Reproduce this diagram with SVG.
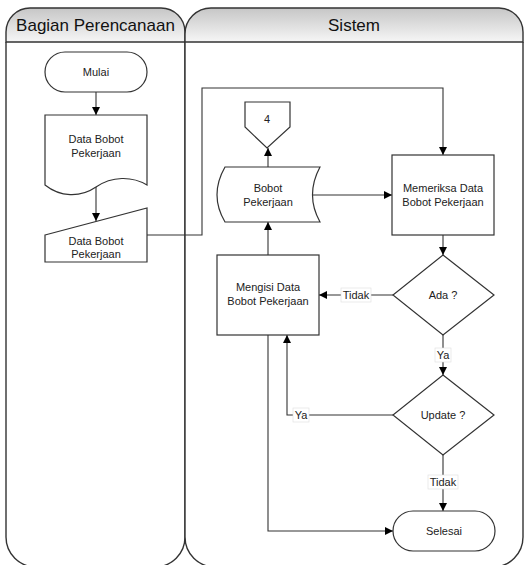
<svg xmlns="http://www.w3.org/2000/svg" width="525" height="565" viewBox="0 0 525 565">
<defs>
<linearGradient id="hdr" x1="0" y1="0" x2="0" y2="1">
<stop offset="0" stop-color="#c6c6c6"/>
<stop offset="1" stop-color="#f6f6f6"/>
</linearGradient>
<marker id="arr" viewBox="0 0 10 10" refX="10" refY="5" markerWidth="8" markerHeight="8" markerUnits="userSpaceOnUse" orient="auto">
<path d="M0,0 L10,5 L0,10 Z" fill="#000"/>
</marker>
<style>
.lane{fill:#fff;stroke:#333;stroke-width:1.4}
.hd{fill:url(#hdr);stroke:#333;stroke-width:1.4}
.nd{fill:#fff;stroke:#333;stroke-width:1.2}
.ht{font-family:"Liberation Sans",Arial,sans-serif;font-size:17px;fill:#111;text-anchor:middle}
.t{font-family:"Liberation Sans",Arial,sans-serif;font-size:11px;fill:#222;text-anchor:middle}
.c{fill:none;stroke:#333;stroke-width:1.1}
.lb{fill:#fff;stroke:#ddd;stroke-width:0.6}
</style>
</defs>
<g id="lane-bagian">
<path class="lane" d="M6,42 V537 A30,30 0 0 0 36,567 H155 A30,30 0 0 0 185,537 V42"/>
<path class="hd" d="M6,42 V32 A24,24 0 0 1 30,8 H161 A24,24 0 0 1 185,32 V42 Z"/>
<text class="ht" x="95.5" y="31">Bagian Perencanaan</text>
</g>
<g id="lane-sistem">
<path class="lane" d="M185,42 V537 A30,30 0 0 0 215,567 H493 A30,30 0 0 0 523,537 V42"/>
<path class="hd" d="M185,42 V34 A26,26 0 0 1 211,8 H499 A24,24 0 0 1 523,32 V42 Z"/>
<text class="ht" x="354" y="31">Sistem</text>
</g>
<g id="connectors">
<path class="c" d="M96,92 V115" marker-end="url(#arr)"/>
<path class="c" d="M96,187 V221" marker-end="url(#arr)"/>
<path class="c" d="M147,235 H202 V88 H443 V155" marker-end="url(#arr)"/>
<path class="c" d="M268,167 V148" marker-end="url(#arr)"/>
<path class="c" d="M313,195 H392" marker-end="url(#arr)"/>
<path class="c" d="M443,235 V255" marker-end="url(#arr)"/>
<path class="c" d="M393,295 H319" marker-end="url(#arr)"/>
<path class="c" d="M268,255 V222" marker-end="url(#arr)"/>
<path class="c" d="M443,335 V375" marker-end="url(#arr)"/>
<path class="c" d="M393,415 H287 V335" marker-end="url(#arr)"/>
<path class="c" d="M443,455 V511" marker-end="url(#arr)"/>
<path class="c" d="M268,335 V531 H393" marker-end="url(#arr)"/>
<rect class="lb" x="341" y="288" width="30" height="14"/>
<text class="t" x="356" y="299">Tidak</text>
<rect class="lb" x="435" y="348" width="16" height="14"/>
<text class="t" x="443" y="359">Ya</text>
<rect class="lb" x="293" y="408" width="16" height="14"/>
<text class="t" x="301" y="419">Ya</text>
<rect class="lb" x="428" y="475" width="30" height="14"/>
<text class="t" x="443" y="486">Tidak</text>
</g>
<g id="mulai">
<rect class="nd" x="45" y="52" width="102" height="40" rx="20" ry="20"/>
<text class="t" x="96" y="76">Mulai</text>
</g>
<g id="doc-data">
<path class="nd" d="M45,115 H147 V185 C132,176 112,176 96,187 C80,198 60,197 45,185 Z"/>
<text class="t" x="96" y="143">Data Bobot</text>
<text class="t" x="96" y="157">Pekerjaan</text>
</g>
<g id="input-data">
<path class="nd" d="M45,235 L147,208 V262 H45 Z"/>
<text class="t" x="96" y="245">Data Bobot</text>
<text class="t" x="96" y="258">Pekerjaan</text>
</g>
<g id="offpage-4">
<path class="nd" d="M245,102 H290 V127 L267,148 L245,127 Z"/>
<text class="t" x="267" y="123">4</text>
</g>
<g id="stored-bobot">
<path class="nd" d="M225,167 H320 Q305,195 320,222 H225 Q209,195 225,167 Z"/>
<text class="t" x="268" y="192">Bobot</text>
<text class="t" x="268" y="206">Pekerjaan</text>
</g>
<g id="memeriksa">
<rect class="nd" x="392" y="155" width="102" height="80"/>
<text class="t" x="443" y="192">Memeriksa Data</text>
<text class="t" x="443" y="206">Bobot Pekerjaan</text>
</g>
<g id="ada">
<path class="nd" d="M443,255 L494,295 L443,335 L393,295 Z"/>
<text class="t" x="443" y="299">Ada ?</text>
</g>
<g id="mengisi">
<rect class="nd" x="217" y="255" width="102" height="80"/>
<text class="t" x="268" y="291">Mengisi Data</text>
<text class="t" x="268" y="305">Bobot Pekerjaan</text>
</g>
<g id="update">
<path class="nd" d="M443,375 L494,415 L443,455 L393,415 Z"/>
<text class="t" x="443" y="419">Update ?</text>
</g>
<g id="selesai">
<rect class="nd" x="393" y="511" width="102" height="40" rx="20" ry="20"/>
<text class="t" x="444" y="535">Selesai</text>
</g>
</svg>
